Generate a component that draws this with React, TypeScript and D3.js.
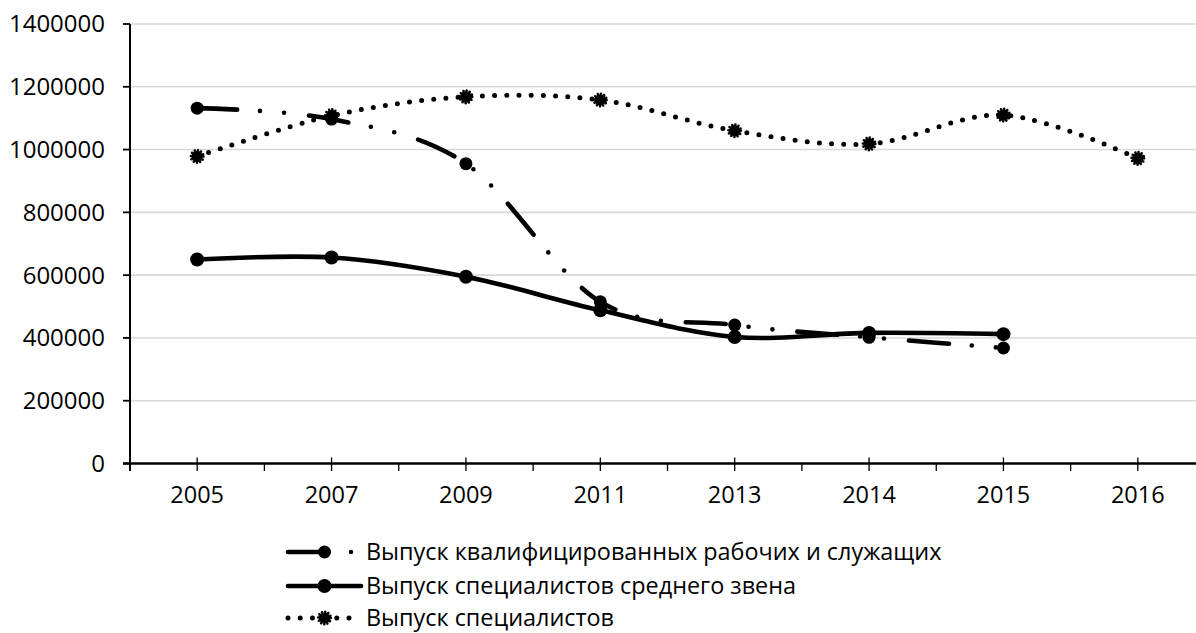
import React from "react";
import * as d3 from "d3";

const categories = ["2005", "2007", "2009", "2011", "2013", "2014", "2015", "2016"];
const qualifiedWorkers: (number | null)[] = [1132000, 1097000, 955000, 515000, 441000, 402000, 368000, null];
const midLevelSpecialists: (number | null)[] = [650000, 656000, 595000, 488000, 403000, 416000, 412000, null];
const specialists: (number | null)[] = [978000, 1108000, 1168000, 1158000, 1060000, 1018000, 1110000, 972000];
const yTicks = [0, 200000, 400000, 600000, 800000, 1000000, 1200000, 1400000];
const seriesNames = [
  "Выпуск квалифицированных рабочих и служащих",
  "Выпуск специалистов среднего звена",
  "Выпуск специалистов",
];

const W = 1196;
const H = 633;
const FONT = "'Open Sans', 'Noto Sans', sans-serif";

export default function App() {
  const x = d3.scaleBand<string>().domain(categories).range([130, 1205]).padding(0);
  const y = d3.scaleLinear().domain([0, 1400000]).range([463.5, 24]);
  const cx = (c: string) => (x(c) as number) + x.bandwidth() / 2;

  const line = d3
    .line<[string, number | null]>()
    .defined((d) => d[1] !== null)
    .x((d) => cx(d[0]))
    .y((d) => y(d[1] as number))
    .curve(d3.curveCardinal.tension(0));

  const pairs = (vals: (number | null)[]) =>
    categories.map((c, i) => [c, vals[i]] as [string, number | null]).filter((d) => d[1] !== null);

  const styles = [
    { dash: "40 23 0 24 0 25", width: 4.6 },
    { dash: null, width: 4.6 },
    { dash: "0 12.2", width: 5 },
  ];
  const data = [qualifiedWorkers, midLevelSpecialists, specialists];

  const marker = (k: number, px: number, py: number, key: string) => {
    if (k === 0) return <circle key={key} cx={px} cy={py} r={6.5} fill="#000" />;
    if (k === 1) return <circle key={key} cx={px} cy={py} r={7} fill="#000" />;
    return (
      <g key={key}>
        <circle cx={px} cy={py} r={5.8} fill="#000" />
        <circle cx={px} cy={py} r={6.3} fill="none" stroke="#000" strokeWidth={2.6} strokeDasharray="0 3.3" strokeLinecap="round" />
      </g>
    );
  };

  const legendY = [552, 586, 618];

  return (
    <svg width={W} height={H} style={{ position: "absolute", left: 0, top: 0, background: "#fff" }} fontFamily={FONT}>
      <rect x={0} y={0} width={W} height={H} fill="#fff" />
      {/* gridlines */}
      {yTicks.filter((t) => t > 0).map((t) => (
        <line key={"g" + t} x1={130} x2={W} y1={y(t)} y2={y(t)} stroke="#d9d9d9" strokeWidth={1.6} />
      ))}
      {/* y axis */}
      <line x1={130} x2={130} y1={y(1400000)} y2={471} stroke="#000" strokeWidth={2} />
      {yTicks.map((t) => (
        <g key={"yt" + t}>
          <line x1={123} x2={130} y1={y(t)} y2={y(t)} stroke="#000" strokeWidth={1.8} />
          <text x={105} y={y(t)} dy="0.35em" textAnchor="end" fontSize={24} fill="#000">
            {t}
          </text>
        </g>
      ))}
      {/* x axis */}
      <line x1={123} x2={W} y1={y(0)} y2={y(0)} stroke="#000" strokeWidth={2.3} />
      {categories.map((c) => (
        <g key={"xt" + c}>
          <line x1={cx(c)} x2={cx(c)} y1={457.5} y2={471} stroke="#000" strokeWidth={1.3} />
          <line x1={x(c) as number} x2={x(c) as number} y1={463.5} y2={471} stroke="#000" strokeWidth={1.3} />
          <text x={cx(c)} y={503} textAnchor="middle" fontSize={23.5} fill="#000">
            {c}
          </text>
        </g>
      ))}
      {/* series */}
      {data.map((vals, k) => (
        <g key={"s" + k}>
          <path
            d={line(pairs(vals)) || ""}
            fill="none"
            stroke="#000"
            strokeWidth={styles[k].width}
            strokeDasharray={styles[k].dash || undefined}
            strokeLinecap="round"
            strokeLinejoin="round"
          />
          {pairs(vals).map((d) => marker(k, cx(d[0]), y(d[1] as number), "m" + k + d[0]))}
        </g>
      ))}
      {/* legend */}
      {seriesNames.map((name, k) => (
        <g key={"lg" + k}>
          <line
            x1={288}
            x2={361}
            y1={legendY[k]}
            y2={legendY[k]}
            stroke="#000"
            strokeWidth={styles[k].width}
            strokeDasharray={styles[k].dash || undefined}
            strokeLinecap="round"
          />
          {marker(k, 324.5, legendY[k], "lm" + k)}
          <text x={366} y={legendY[k]} dy="0.35em" fontSize={23.4} fill="#000">
            {name}
          </text>
        </g>
      ))}
    </svg>
  );
}
